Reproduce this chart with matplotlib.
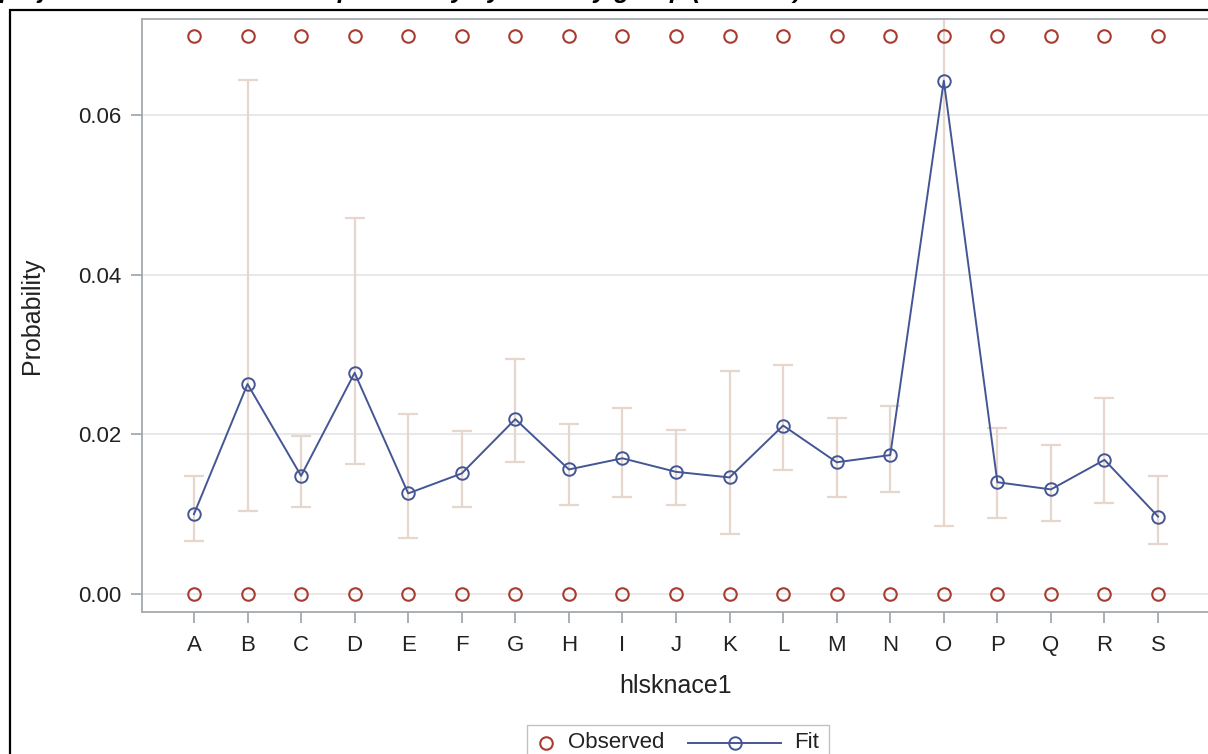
import matplotlib
matplotlib.use("Agg")
import matplotlib.pyplot as plt
from matplotlib.lines import Line2D
from matplotlib.patches import Rectangle
import numpy as np

plt.rcParams['font.family'] = ['Liberation Sans', 'DejaVu Sans']

categories = ['A', 'B', 'C', 'D', 'E', 'F', 'G', 'H', 'I', 'J',
              'K', 'L', 'M', 'N', 'O', 'P', 'Q', 'R', 'S']
fit = [0.0100, 0.0263, 0.0148, 0.0277, 0.0126, 0.0151, 0.0219, 0.0156, 0.0170, 0.0153,
       0.0146, 0.0211, 0.0165, 0.0174, 0.0643, 0.0140, 0.0131, 0.0168, 0.0097]
upper = [0.0148, 0.0644, 0.0198, 0.0471, 0.0226, 0.0204, 0.0294, 0.0213, 0.0233, 0.0206,
         0.0279, 0.0287, 0.0221, 0.0236, 0.2000, 0.0208, 0.0187, 0.0245, 0.0148]
lower = [0.0066, 0.0104, 0.0109, 0.0163, 0.0070, 0.0109, 0.0165, 0.0112, 0.0122, 0.0112,
         0.0075, 0.0155, 0.0122, 0.0128, 0.0085, 0.0095, 0.0092, 0.0114, 0.0063]
observed_top = [0.0699] * len(categories)
observed_bottom = [0.0] * len(categories)
yticks = [0.00, 0.02, 0.04, 0.06]

W, H = 1208, 754
fig = plt.figure(figsize=(W / 100, H / 100), dpi=100)

ax_l, ax_r, ax_t, ax_b = 142, 1210, 19, 611.7
ax_w, ax_h = ax_r - ax_l, ax_b - ax_t
ax = fig.add_axes([ax_l / W, 1 - ax_b / H, ax_w / W, ax_h / H])

x = np.arange(len(categories))
fit_a = np.array(fit)
up_a = np.array(upper)
lo_a = np.array(lower)

obs_col = '#A83C30'
fit_col = '#445694'
err_col = '#E6D6CC'
spine_col = '#A3A9AC'
grid_col = '#E4E4E4'
txt_col = '#222222'

ax.errorbar(x, fit_a, yerr=[fit_a - lo_a, up_a - fit_a], fmt='none',
            ecolor=err_col, elinewidth=1.6, capsize=7.5, capthick=1.6, zorder=2)
ax.plot(x, fit_a, color=fit_col, lw=1.4, marker='o', ms=9, mfc='none',
        mec=fit_col, mew=1.4, zorder=3)
ax.plot(x, observed_top, ls='none', marker='o', ms=9, mfc='none', mec=obs_col,
        mew=1.5, zorder=3, clip_on=False)
ax.plot(x, observed_bottom, ls='none', marker='o', ms=9, mfc='none', mec=obs_col,
        mew=1.5, zorder=3)

ax.set_xlim(-0.97, 18.97)
ax.set_ylim(-0.00222, 0.07203)
ax.set_xticks(x)
ax.set_xticklabels(categories)
ax.set_yticks(yticks)
ax.set_yticklabels(['%.2f' % v for v in yticks])
ax.grid(axis='y', color=grid_col, lw=1.2, zorder=0)
ax.set_axisbelow(True)
for s in ax.spines.values():
    s.set_color(spine_col)
    s.set_linewidth(1.3)
ax.spines['right'].set_visible(False)
ax.tick_params(axis='both', colors=spine_col, length=8, width=1.3,
               labelsize=16, labelcolor=txt_col, pad=7)
ax.tick_params(axis='x', pad=9)
ax.set_xlabel('hlsknace1', fontsize=18, color=txt_col)
ax.set_ylabel('Probability', fontsize=18, color=txt_col)
ax.xaxis.set_label_coords(0.5, (ax_b - 674) / ax_h)
ax.yaxis.set_label_coords((44 - ax_l) / ax_w, 0.5)

# outer frame (cropped screenshot)
fig.patches.append(Rectangle((10 / W, -0.05), 1.1, 1 - 10 / H + 0.05,
                             transform=fig.transFigure, fill=False,
                             edgecolor='black', lw=1.6, zorder=10))

# title, mostly cut off at the top of the image
fig.text(0.0, 1 + 2 / H, 'projected sickness absence probability by industry group (SAS 9.4)',
         fontsize=18, fontweight='bold', fontstyle='italic', va='baseline',
         ha='left', color='black')

# legend box (manual, bottom centre, partly cut off)
lx0, ly0 = 527, 725
fig.patches.append(Rectangle((lx0 / W, -0.05), (829 - lx0) / W, 1 - ly0 / H + 0.05,
                             transform=fig.transFigure, fill=False,
                             edgecolor='#BFC3C5', lw=1.0))
ly = 1 - 743 / H
fig.add_artist(Line2D([546 / W], [ly], ls='none', marker='o', ms=9, mfc='none',
                      mec=obs_col, mew=1.5, transform=fig.transFigure))
fig.text(568 / W, ly, 'Observed', fontsize=16, va='center', ha='left', color=txt_col)
fig.add_artist(Line2D([688 / W, 781 / W], [ly, ly], color=fit_col, lw=1.4,
                      transform=fig.transFigure))
fig.add_artist(Line2D([735 / W], [ly], ls='none', marker='o', ms=9, mfc='none',
                      mec=fit_col, mew=1.4, transform=fig.transFigure))
fig.text(794 / W, ly, 'Fit', fontsize=16, va='center', ha='left', color=txt_col)

fig.savefig('out.png', dpi=100)
